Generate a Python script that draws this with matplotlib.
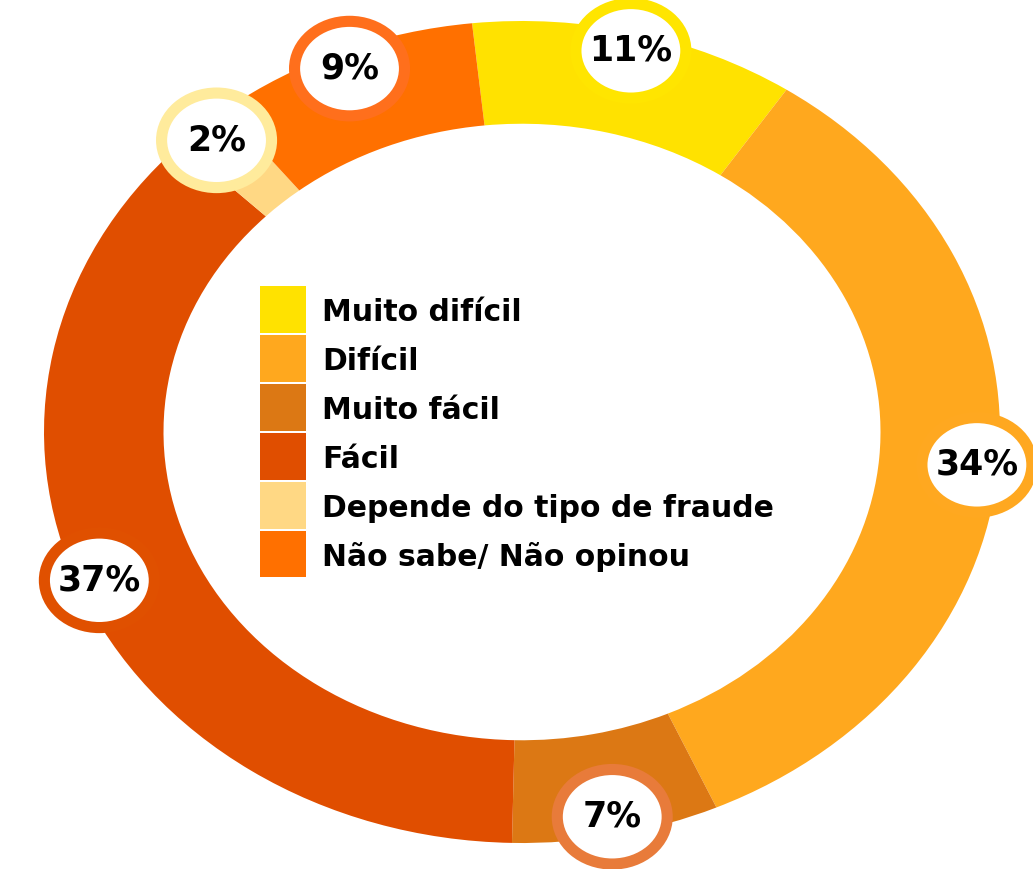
import numpy as np
import matplotlib
matplotlib.use("Agg")
import matplotlib.pyplot as plt
from matplotlib.patches import Circle, Rectangle

categories = ["Muito difícil", "Difícil", "Muito fácil", "Fácil",
              "Depende do tipo de fraude", "Não sabe/ Não opinou"]
values = [11, 34, 7, 37, 2, 9]
labels = ["11%", "34%", "7%", "37%", "2%", "9%"]

colors = ["#FFE200", "#FFA81E", "#DC7814", "#E04E00", "#FFD884", "#FF7000"]
border_colors = ["#FFE500", "#FFA820", "#E87B3A", "#E05000", "#FFEB9C", "#FF6F1C"]

W, H = 1033, 869
fig = plt.figure(figsize=(W / 100, H / 100), dpi=100)

# ellipse geometry in pixels
cx, cy = 522, 437   # center (y from bottom)
a, b = 478, 411     # outer semi-axes
lim = 1.3
ax = fig.add_axes([(cx - lim * a) / W, (cy - lim * b) / H,
                   2 * lim * a / W, 2 * lim * b / H])
ax.axis("off")

start = 96
wedges, _ = ax.pie(values, colors=colors, startangle=start, counterclock=False,
                   radius=1.0, wedgeprops=dict(width=0.25, linewidth=0))
ax.set_xlim(-lim, lim)
ax.set_ylim(-lim, lim)
ax.set_aspect("auto")

total = float(sum(values))
cum = 0.0
r_lab = 0.955
for v, lab, bc in zip(values, labels, border_colors):
    mid = start - (cum + v / 2.0) / total * 360.0
    cum += v
    x = r_lab * np.cos(np.radians(mid))
    y = r_lab * np.sin(np.radians(mid))
    ax.add_patch(Circle((x, y), 0.115, facecolor="white", edgecolor=bc,
                        linewidth=8, zorder=5, clip_on=False))
    ax.text(x, y, lab, ha="center", va="center", fontsize=25,
            fontweight="bold", color="black", zorder=6,
            family="DejaVu Sans")

# legend
sq_x, sq_w = 260, 46
top = 869 - 285
pitch = 48.9
for i, (cat, col) in enumerate(zip(categories, colors)):
    y0 = top - (i + 1) * pitch
    fig.add_artist(Rectangle((sq_x / W, (y0 + 1) / H), sq_w / W, (pitch - 2) / H,
                             transform=fig.transFigure, facecolor=col,
                             edgecolor="none"))
    fig.text(322 / W, (y0 + pitch / 2) / H, cat, ha="left", va="center_baseline",
             fontsize=21.5, fontweight="bold", color="black", family="DejaVu Sans")

fig.savefig("out.png", dpi=100, facecolor="white")
